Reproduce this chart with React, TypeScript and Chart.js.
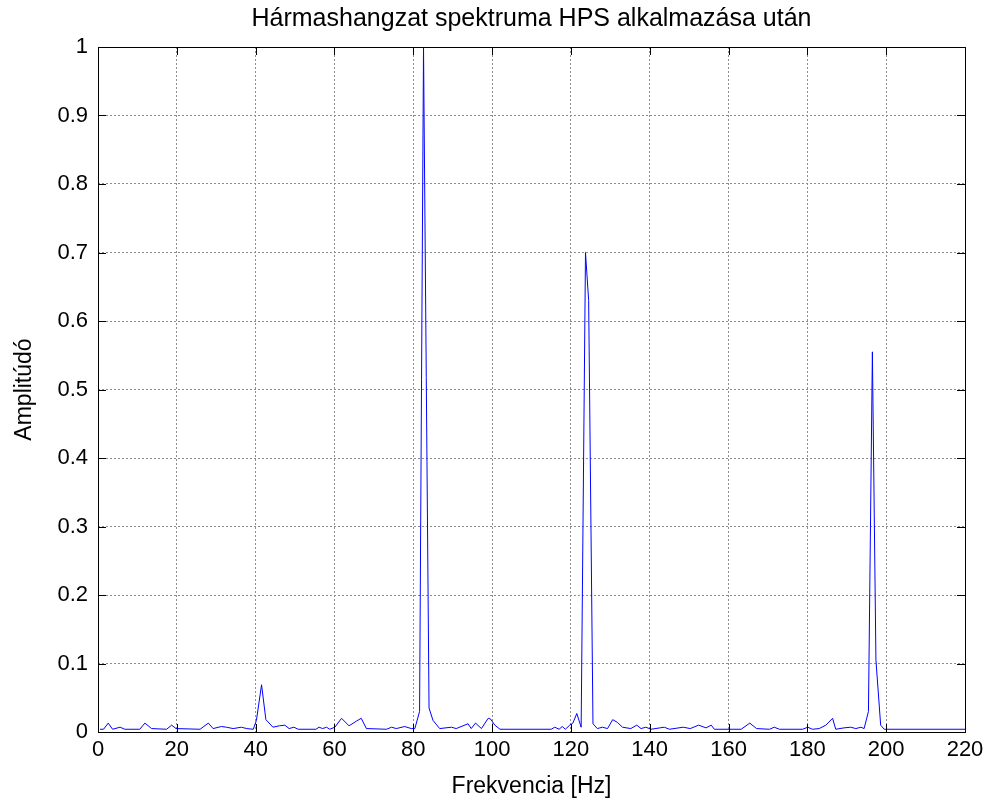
import React, { useEffect, useRef } from "react";
import { Chart, registerables } from "chart.js";

Chart.register(...registerables);

const TITLE = "Hármashangzat spektruma HPS alkalmazása után";
const X_LABEL = "Frekvencia [Hz]";
const Y_LABEL = "Amplitúdó";

const freqHz: number[] = [
  0.5, 1.4, 2.6, 3.7, 5.6, 6.8, 10.6, 11.9, 13.6, 17.4, 18.7, 19.8, 25.9, 28.0, 29.2, 31.3, 32.6, 34.3,
  36.4, 37.7, 39.4, 40.2, 41.5, 42.6, 44.4, 46.0, 47.4, 48.5, 49.7, 50.8, 55.3, 56.1, 57.0, 58.0, 58.8,
  60.1, 61.8, 63.7, 65.6, 66.8, 68.1, 73.2, 74.5, 75.7, 77.8, 79.5, 80.4, 81.6, 82.6, 84.0, 85.0, 86.7,
  89.7, 90.9, 93.9, 94.7, 95.8, 97.3, 99.0, 99.6, 100.7, 102.0, 115.0, 115.9, 117.0, 117.8, 118.6, 119.7,
  120.5, 121.5, 122.6, 123.7, 124.5, 125.6, 126.7, 128.0, 129.3, 130.6, 131.8, 133.1, 135.2, 136.7, 137.8,
  139.0, 140.3, 143.7, 145.0, 148.5, 150.3, 152.4, 154.3, 155.6, 156.4, 163.2, 165.4, 167.1, 170.4, 171.6,
  172.9, 178.8, 180.1, 181.3, 183.0, 184.7, 186.4, 187.2, 189.3, 191.0, 192.3, 193.6, 194.4, 195.5, 196.5,
  197.4, 198.6, 199.5, 220.0,
];

const amplitude: number[] = [
  0.004, 0.004, 0.013, 0.004, 0.007, 0.004, 0.004, 0.013, 0.005, 0.004, 0.010, 0.005, 0.004, 0.013, 0.005, 0.008, 0.007, 0.005,
  0.007, 0.005, 0.004, 0.017, 0.069, 0.018, 0.007, 0.009, 0.010, 0.005, 0.007, 0.004, 0.004, 0.007, 0.005, 0.007, 0.004,
  0.007, 0.020, 0.009, 0.016, 0.020, 0.005, 0.004, 0.007, 0.005, 0.008, 0.005, 0.005, 0.030, 1.000, 0.035, 0.017, 0.005,
  0.007, 0.005, 0.012, 0.005, 0.013, 0.005, 0.020, 0.019, 0.010, 0.004, 0.004, 0.007, 0.004, 0.008, 0.004, 0.010,
  0.013, 0.027, 0.007, 0.700, 0.630, 0.012, 0.005, 0.007, 0.005, 0.018, 0.014, 0.007, 0.005, 0.010, 0.005,
  0.007, 0.004, 0.007, 0.004, 0.007, 0.005, 0.010, 0.006, 0.010, 0.004, 0.004, 0.013, 0.005, 0.004, 0.007,
  0.004, 0.004, 0.007, 0.004, 0.005, 0.010, 0.020, 0.004, 0.006, 0.007, 0.005, 0.007, 0.005, 0.030, 0.555,
  0.105, 0.010, 0.004, 0.004,
];

const xTicks: number[] = [0, 20, 40, 60, 80, 100, 120, 140, 160, 180, 200, 220];
const yTicks: number[] = [0, 0.1, 0.2, 0.3, 0.4, 0.5, 0.6, 0.7, 0.8, 0.9, 1];

const FONT = "'Liberation Sans', Arial, Helvetica, sans-serif";

const boxPlugin = {
  id: "matlabBox",
  afterDraw(chart: any) {
    const { ctx, chartArea } = chart;
    const { left, right, top, bottom } = chartArea;
    const xs = chart.scales.x;
    const ys = chart.scales.y;
    const len = 8;
    ctx.save();
    ctx.strokeStyle = "#000";
    ctx.lineWidth = 1;
    ctx.setLineDash([]);
    ctx.beginPath();
    for (const v of xTicks) {
      const px = Math.round(xs.getPixelForValue(v)) + 0.5;
      ctx.moveTo(px, bottom);
      ctx.lineTo(px, bottom - len);
      ctx.moveTo(px, top);
      ctx.lineTo(px, top + len);
    }
    for (const v of yTicks) {
      const py = Math.round(ys.getPixelForValue(v)) + 0.5;
      ctx.moveTo(left, py);
      ctx.lineTo(left + len, py);
      ctx.moveTo(right, py);
      ctx.lineTo(right - len, py);
    }
    ctx.stroke();
    ctx.strokeRect(Math.round(left) + 0.5, Math.round(top) + 0.5, Math.round(right - left), Math.round(bottom - top));
    // title centred over the plot area, as MATLAB does
    ctx.fillStyle = "#000";
    ctx.font = `25px ${FONT}`;
    ctx.textAlign = "center";
    ctx.textBaseline = "middle";
    ctx.fillText(TITLE, (left + right) / 2, 19);
    ctx.restore();
  },
};

export default function App() {
  const ref = useRef<HTMLCanvasElement | null>(null);
  useEffect(() => {
    if (!ref.current) return;
    const chart = new Chart(ref.current, {
      type: "line",
      data: {
        datasets: [
          {
            data: freqHz.map((x, i) => ({ x, y: amplitude[i] })),
            borderColor: "#0000ff",
            borderWidth: 1,
            pointRadius: 0,
            tension: 0,
            fill: false,
          },
        ],
      },
      options: {
        responsive: false,
        animation: false,
        devicePixelRatio: 1,
        layout: { padding: { left: 0, right: 27, top: 47, bottom: 0 } },
        plugins: {
          legend: { display: false },
          tooltip: { enabled: false },
          title: { display: false },
        },
        scales: {
          x: {
            type: "linear",
            min: 0,
            max: 220,
            afterBuildTicks(scale: any) {
              scale.ticks = xTicks.map((v) => ({ value: v }));
            },
            afterFit(scale: any) {
              scale.height = 73;
            },
            grid: { color: "#8c8c8c", lineWidth: 1, drawTicks: false },
            border: { display: false, dash: [2, 2] },
            ticks: {
              color: "#000",
              font: { family: FONT, size: 22 },
              padding: 5,
              maxRotation: 0,
              autoSkip: false,
              callback: (v: any) => String(v),
            },
            title: {
              display: true,
              text: X_LABEL,
              color: "#000",
              font: { family: FONT, size: 23 },
              padding: { top: 0, bottom: 5 },
            },
          },
          y: {
            type: "linear",
            min: 0,
            max: 1,
            afterBuildTicks(scale: any) {
              scale.ticks = yTicks.map((v) => ({ value: v }));
            },
            afterFit(scale: any) {
              scale.width = 98;
            },
            grid: { color: "#8c8c8c", lineWidth: 1, drawTicks: false },
            border: { display: false, dash: [2, 2] },
            ticks: {
              color: "#000",
              font: { family: FONT, size: 22 },
              padding: 10,
              autoSkip: false,
              callback: (v: any) => String(Math.round(v * 10) / 10),
            },
            title: {
              display: true,
              text: Y_LABEL,
              color: "#000",
              font: { family: FONT, size: 23 },
              padding: { top: 11, bottom: 0 },
            },
          },
        },
      },
      plugins: [boxPlugin],
    } as any);
    return () => chart.destroy();
  }, []);
  return (
    <div style={{ position: "fixed", left: 0, top: 0, width: 992, height: 805, background: "#fff" }}>
      <canvas ref={ref} width={992} height={805} style={{ width: 992, height: 805, display: "block" }} />
    </div>
  );
}
